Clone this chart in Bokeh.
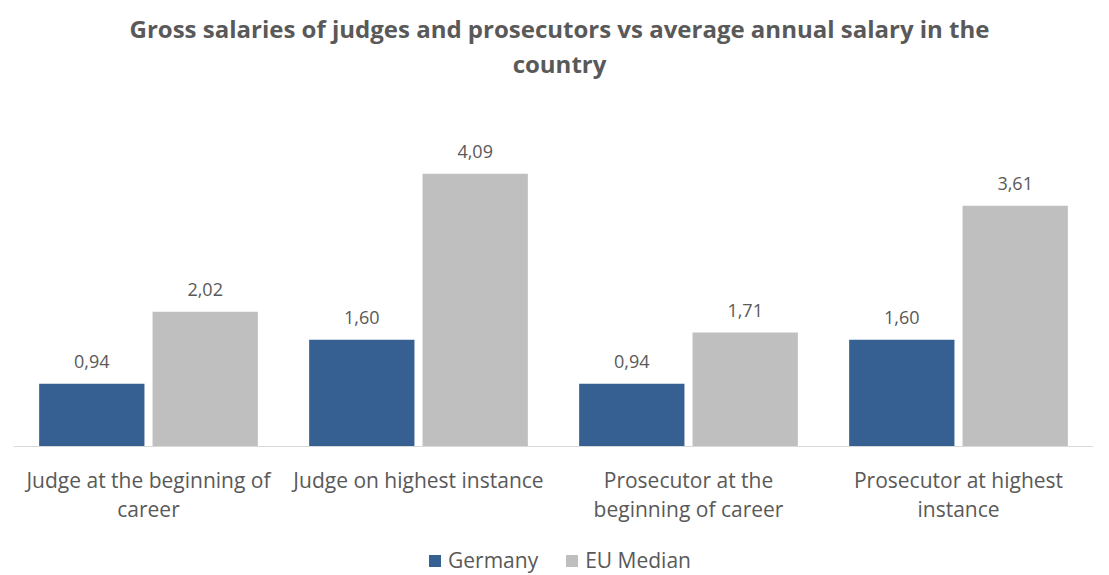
from bokeh.plotting import figure
from bokeh.models import ColumnDataSource, FactorRange, Range1d, Label, Legend, LegendItem, LabelSet, Span
from bokeh.transform import dodge
from bokeh.core.properties import value
from bokeh.embed import file_html
from bokeh.resources import INLINE

categories = ["Judge at the beginning of\ncareer", "Judge on highest instance",
              "Prosecutor at the\nbeginning of career", "Prosecutor at highest\ninstance"]
germany = [0.94, 1.60, 0.94, 1.60]
eu_median = [2.02, 4.09, 1.71, 3.61]
series_names = ["Germany", "EU Median"]
title_lines = ["Gross salaries of judges and prosecutors vs average annual salary in the", "country"]

FONT = "Open Sans"
GREY = "#595959"
BLUE = "#366092"
LIGHT = "#BFBFBF"

PX = 446 / 6.69  # pixels per data unit

src = ColumnDataSource(dict(
    cat=categories, germany=germany, eu=eu_median,
    gl=[f"{v:.2f}".replace(".", ",") for v in germany],
    el=[f"{v:.2f}".replace(".", ",") for v in eu_median],
    line1=[c.split("\n")[0] for c in categories],
    line2=[(c.split("\n") + [""])[1] for c in categories],
))

p = figure(x_range=FactorRange(*categories, range_padding=0),
           y_range=Range1d(-(574 - 446) / PX, 6.69),
           frame_width=1080, frame_height=574, output_backend="svg", toolbar_location=None,
           min_border_left=13, min_border_right=7, min_border_top=0, min_border_bottom=0)

r1 = p.vbar(x=dodge("cat", -0.21, range=p.x_range), top="germany", width=0.39, source=src,
            fill_color=BLUE, line_color=None)
r2 = p.vbar(x=dodge("cat", 0.21, range=p.x_range), top="eu", width=0.39, source=src,
            fill_color=LIGHT, line_color=None)

for key, col, off in (("gl", "germany", -0.21), ("el", "eu", 0.21)):
    ls = LabelSet(x=dodge("cat", off, range=p.x_range), y=col,
                  text=key, source=src, text_align="center", text_baseline="middle",
                  y_offset=22, text_font=value(FONT), text_font_size="18px", text_color=GREY)
    p.add_layout(ls)

# category labels below the baseline
for key, px in (("line1", 479), ("line2", 508)):
    p.text(x="cat", y=-(px - 446) / PX, text=key, source=src, text_align="center",
           text_baseline="middle", text_font=value(FONT), text_font_size="21px",
           text_color=GREY)

p.add_layout(Span(location=0, dimension="width", line_color="#D9D9D9", line_width=1))

p.axis.visible = False
p.xgrid.visible = False
p.ygrid.visible = False
p.outline_line_color = None

legend = Legend(items=[LegendItem(label=series_names[0], renderers=[r1]),
                       LegendItem(label=series_names[1], renderers=[r2])],
                orientation="horizontal", location=(414, 0),
                label_text_font=FONT, label_text_font_size="21px", label_text_color=GREY,
                glyph_width=15, glyph_height=15, spacing=26, label_standoff=6,
                border_line_color=None, background_fill_alpha=0, padding=0, margin=0)
p.add_layout(legend, "center")

for i, line in enumerate(title_lines):
    p.add_layout(Label(x=546, y=574 - 28 - 35 * i, x_units="screen", y_units="screen",
                       text=line, text_align="center", text_baseline="middle",
                       text_font=FONT, text_font_style="bold", text_font_size="24px",
                       text_color=GREY))

open("out.html", "w").write(file_html(p, INLINE))
